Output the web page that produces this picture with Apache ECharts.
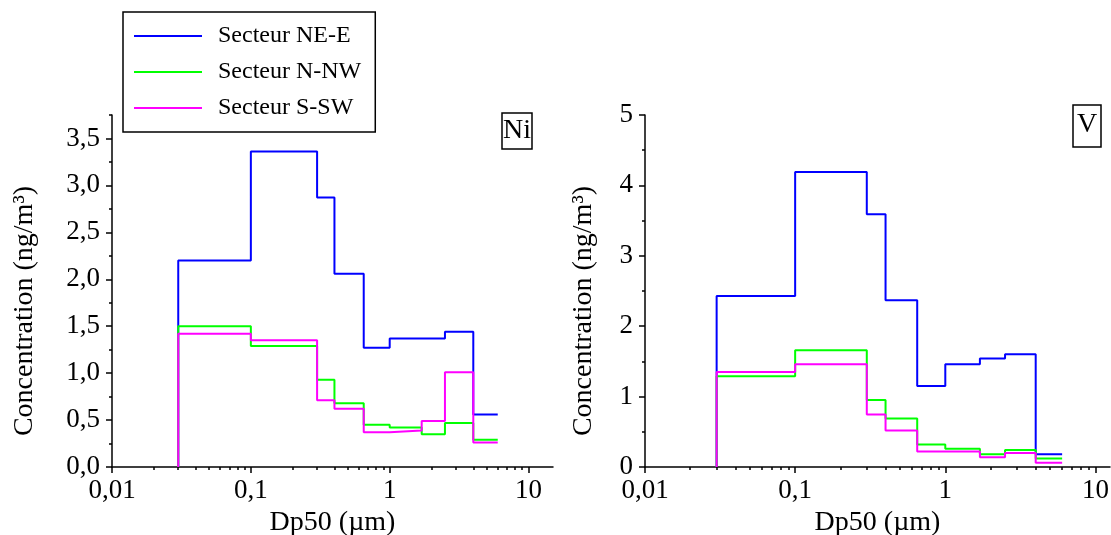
<!DOCTYPE html>
<html>
<head>
<meta charset="utf-8">
<script src="https://cdn.jsdelivr.net/npm/echarts@6/dist/echarts.min.js"></script>
<style>
html,body{margin:0;padding:0;background:#fff;overflow:hidden;}
#c{width:1111px;height:535px;}
</style>
</head>
<body>
<div id="c"></div>
<script>
// Bin edges (Dp50, µm)
const edges = [0.03, 0.1, 0.3, 0.4, 0.65, 1.0, 1.7, 2.5, 4.0, 6.0];
const seriesNames = ['Secteur NE-E', 'Secteur N-NW', 'Secteur S-SW'];
// Ni concentrations (ng/m3) per bin
const niNEE = [2.20, 3.36, 2.87, 2.06, 1.27, 1.37, 1.37, 1.44, 0.56];
const niNNW = [1.50, 1.29, 0.93, 0.68, 0.45, 0.42, 0.35, 0.47, 0.29];
const niSSW = [1.42, 1.35, 0.71, 0.62, 0.37, 0.39, 0.49, 1.01, 0.26];
// V concentrations (ng/m3) per bin
const vNEE = [2.43, 4.19, 3.59, 2.37, 1.15, 1.46, 1.54, 1.60, 0.18];
const vNNW = [1.29, 1.66, 0.95, 0.69, 0.32, 0.26, 0.18, 0.24, 0.12];
const vSSW = [1.35, 1.46, 0.745, 0.52, 0.22, 0.22, 0.14, 0.20, 0.06];
// Axis ticks
const xMajor = [0.01, 0.1, 1, 10];
const xMinor = [0.02,0.03,0.04,0.05,0.06,0.07,0.08,0.09,0.2,0.3,0.4,0.5,0.6,0.7,0.8,0.9,2,3,4,5,6,7,8,9];
const xAll = xMajor.concat(xMinor);
const niYMajor = [0, 0.5, 1.0, 1.5, 2.0, 2.5, 3.0, 3.5];
const niYMinor = [0.25, 0.75, 1.25, 1.75, 2.25, 2.75, 3.25, 3.75];

const colors = ['#0000ff', '#00ff00', '#ff00ff'];
const FONT = "'Liberation Serif','Times New Roman',serif";

function stepData(vals) {
  const d = [[edges[0], 0]];
  for (let i = 0; i < vals.length; i++) d.push([edges[i + 1], vals[i]]);
  return d;
}
function fmtNum(v) { return String(+(+v).toPrecision(10)).replace('.', ','); }

function mainX(grid, max) {
  return {
    type: 'log', logBase: 10, gridIndex: grid, min: 0.01, max: max, position: 'bottom',
    name: 'Dp50 (µm)', nameLocation: 'middle', nameGap: 38,
    nameTextStyle: {fontFamily: FONT, fontSize: 28, color: '#000'},
    axisLine: {show: true, onZero: false, lineStyle: {color: '#000', width: 1.5}},
    axisTick: {show: true, length: 3, customValues: xAll, lineStyle: {color: '#000', width: 1.5}},
    axisLabel: {show: true, customValues: xMajor, margin: 10, fontFamily: FONT, fontSize: 27, color: '#000',
      formatter: fmtNum},
    splitLine: {show: false}, minorTick: {show: false}
  };
}
function majorTickX(grid, max) {
  return {
    type: 'log', logBase: 10, gridIndex: grid, min: 0.01, max: max, position: 'bottom', offset: 0,
    axisLine: {show: false, onZero: false},
    axisTick: {show: true, length: 6, customValues: xMajor, lineStyle: {color: '#000', width: 1.5}},
    axisLabel: {show: false}, splitLine: {show: false}
  };
}

const series = [];
const ni = [niNEE, niNNW, niSSW], va = [vNEE, vNNW, vSSW];
for (let k = 0; k < 3; k++) {
  series.push({
    name: seriesNames[k], type: 'line', step: 'start', xAxisIndex: 0, yAxisIndex: 0,
    data: stepData(ni[k]), symbol: 'none', color: colors[k],
    lineStyle: {width: 2, color: colors[k]}, z: 2 + k
  });
}
for (let k = 0; k < 3; k++) {
  series.push({
    name: seriesNames[k], type: 'line', step: 'start', xAxisIndex: 2, yAxisIndex: 2,
    data: stepData(va[k]), symbol: 'none', color: colors[k],
    lineStyle: {width: 2, color: colors[k]}, z: 2 + k
  });
}

const yName = {fontFamily: FONT, fontSize: 28, color: '#000', padding: [0, 40, 0, 0]};

const chart = echarts.init(document.getElementById('c'), null, {renderer: 'canvas'});
chart.setOption({
  animation: false,
  backgroundColor: '#fff',
  title: [
    {text: 'Ni', left: 502, top: 113, padding: [4, 1, 4, 1], borderColor: '#000', borderWidth: 1.5,
      textStyle: {fontFamily: FONT, fontSize: 28, fontWeight: 'normal', color: '#000'}},
    {text: 'V', left: 1073, top: 105, padding: [6, 4, 8, 4], borderColor: '#000', borderWidth: 1.5,
      textStyle: {fontFamily: FONT, fontSize: 28, fontWeight: 'normal', color: '#000'}}
  ],
  legend: {
    data: seriesNames.map(n => ({name: n, icon: 'rect'})), orient: 'vertical', left: 123, top: 12,
    padding: [12, 14, 12, 11], itemGap: 12, itemWidth: 68, itemHeight: 2,
    borderColor: '#000', borderWidth: 1.5, backgroundColor: '#fff',
    textStyle: {fontFamily: FONT, fontSize: 24, color: '#000', lineHeight: 24, padding: [0, 0, 0, 11]},
    selectedMode: false, z: 10
  },
  grid: [
    {left: 112, right: 558, top: 115, bottom: 68, containLabel: false, outerBoundsMode: 'none'},
    {left: 645, right: 1, top: 115, bottom: 68, containLabel: false, outerBoundsMode: 'none'}
  ],
  xAxis: [mainX(0, 15), majorTickX(0, 15), mainX(1, 12.5), majorTickX(1, 12.5)],
  yAxis: [
    {
      type: 'value', gridIndex: 0, min: 0, max: 3.75, position: 'left',
      name: 'Concentration (ng/m³)', nameLocation: 'middle', nameGap: 73, nameRotate: 90,
      nameTextStyle: yName,
      axisLine: {show: true, lineStyle: {color: '#000', width: 1.5}},
      axisTick: {show: true, length: 6, customValues: niYMajor, lineStyle: {color: '#000', width: 1.5}},
      axisLabel: {customValues: niYMajor, margin: 12, fontFamily: FONT, fontSize: 27, color: '#000',
        formatter: v => (+v).toFixed(1).replace('.', ',')},
      splitLine: {show: false}
    },
    {
      type: 'value', gridIndex: 0, min: 0, max: 3.75, position: 'left', offset: 0,
      axisLine: {show: false},
      axisTick: {show: true, length: 3, customValues: niYMinor, lineStyle: {color: '#000', width: 1.5}},
      axisLabel: {show: false}, splitLine: {show: false}
    },
    {
      type: 'value', gridIndex: 1, min: 0, max: 5, interval: 1, position: 'left',
      name: 'Concentration (ng/m³)', nameLocation: 'middle', nameGap: 47, nameRotate: 90,
      nameTextStyle: yName,
      axisLine: {show: true, lineStyle: {color: '#000', width: 1.5}},
      axisTick: {show: true, length: 6, lineStyle: {color: '#000', width: 1.5}},
      minorTick: {show: true, splitNumber: 2, length: 3, lineStyle: {color: '#000', width: 1.5}},
      axisLabel: {margin: 12, fontFamily: FONT, fontSize: 27, color: '#000'},
      splitLine: {show: false}
    }
  ],
  series: series
});
</script>
</body>
</html>
